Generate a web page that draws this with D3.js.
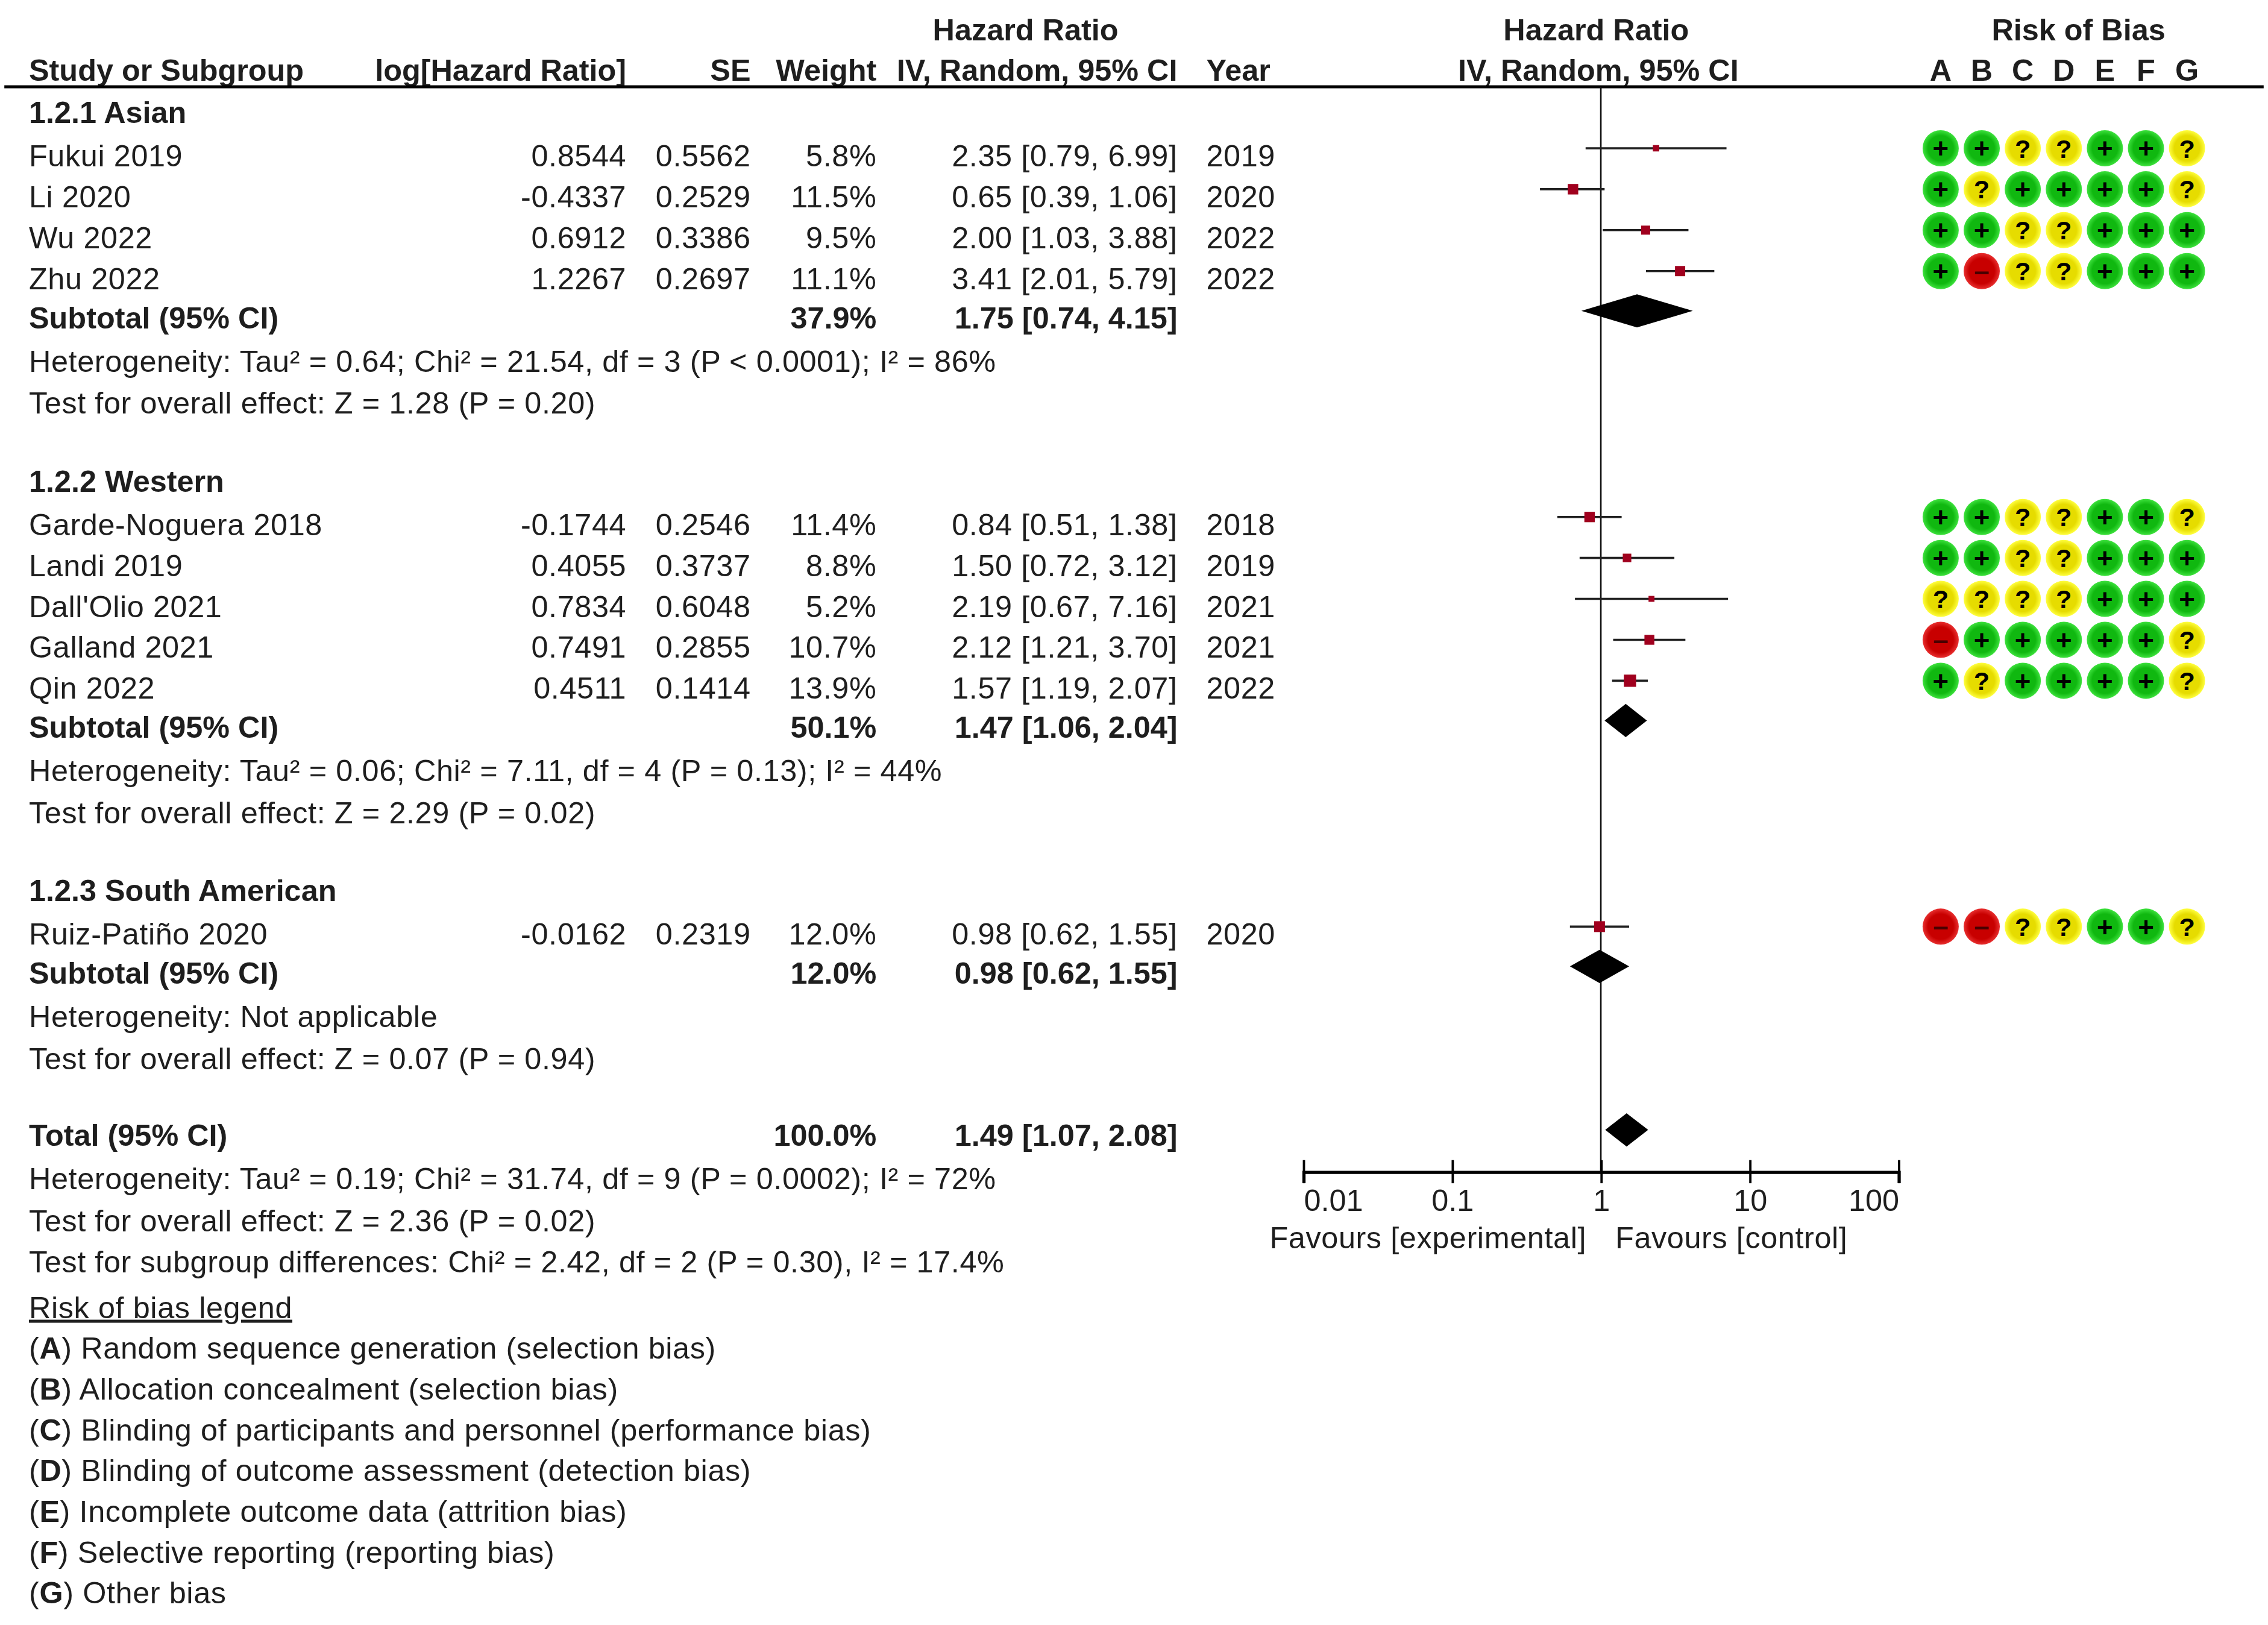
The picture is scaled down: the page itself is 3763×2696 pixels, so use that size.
<!DOCTYPE html>
<html>
<head>
<meta charset="utf-8">
<script src="https://cdn.jsdelivr.net/npm/d3@7"></script>
<style>
  body { margin: 0; background: #fff; }
  text { font-family: "Liberation Sans", Arial, sans-serif; fill: #1e1e1e; }
</style>
</head>
<body>
<script>
// data
var groupNames = ["1.2.1 Asian", "1.2.2 Western", "1.2.3 South American"];
var studyNames = ["Fukui 2019", "Li 2020", "Wu 2022", "Zhu 2022",
  "Garde-Noguera 2018", "Landi 2019", "Dall'Olio 2021", "Galland 2021", "Qin 2022",
  "Ruiz-Patiño 2020"];
var studyGroup = [0, 0, 0, 0, 1, 1, 1, 1, 1, 2];
var logHR = [0.8544, -0.4337, 0.6912, 1.2267, -0.1744, 0.4055, 0.7834, 0.7491, 0.4511, -0.0162];
var seVals = [0.5562, 0.2529, 0.3386, 0.2697, 0.2546, 0.3737, 0.6048, 0.2855, 0.1414, 0.2319];
var weights = [5.8, 11.5, 9.5, 11.1, 11.4, 8.8, 5.2, 10.7, 13.9, 12.0];
var hr = [2.35, 0.65, 2.00, 3.41, 0.84, 1.50, 2.19, 2.12, 1.57, 0.98];
var hrLow = [0.79, 0.39, 1.03, 2.01, 0.51, 0.72, 0.67, 1.21, 1.19, 0.62];
var hrHigh = [6.99, 1.06, 3.88, 5.79, 1.38, 3.12, 7.16, 3.70, 2.07, 1.55];
var years = [2019, 2020, 2022, 2022, 2018, 2019, 2021, 2021, 2022, 2020];
var robCodes = ["++??++?", "+?++++?", "++??+++", "+-??+++",
  "++??++?", "++??+++", "????+++", "-+++++?", "+?++++?", "--??++?"];

var subWeight = [37.9, 50.1, 12.0];
var subHR = [1.75, 1.47, 0.98];
var subLow = [0.74, 1.06, 0.62];
var subHigh = [4.15, 2.04, 1.55];
var subHet = [
  "Heterogeneity: Tau² = 0.64; Chi² = 21.54, df = 3 (P < 0.0001); I² = 86%",
  "Heterogeneity: Tau² = 0.06; Chi² = 7.11, df = 4 (P = 0.13); I² = 44%",
  "Heterogeneity: Not applicable"];
var subEffect = [
  "Test for overall effect: Z = 1.28 (P = 0.20)",
  "Test for overall effect: Z = 2.29 (P = 0.02)",
  "Test for overall effect: Z = 0.07 (P = 0.94)"];

var totalWeight = 100.0, totalHR = 1.49, totalLow = 1.07, totalHigh = 2.08;
var totalTexts = [
  "Heterogeneity: Tau² = 0.19; Chi² = 31.74, df = 9 (P = 0.0002); I² = 72%",
  "Test for overall effect: Z = 2.36 (P = 0.02)",
  "Test for subgroup differences: Chi² = 2.42, df = 2 (P = 0.30), I² = 17.4%"];

var tickValues = [0.01, 0.1, 1, 10, 100];
var tickLabels = ["0.01", "0.1", "1", "10", "100"];
var favourLabels = ["Favours [experimental]", "Favours [control]"];
var robLetters = ["A", "B", "C", "D", "E", "F", "G"];
var robLegend = ["Random sequence generation (selection bias)",
  "Allocation concealment (selection bias)",
  "Blinding of participants and personnel (performance bias)",
  "Blinding of outcome assessment (detection bias)",
  "Incomplete outcome data (attrition bias)",
  "Selective reporting (reporting bias)",
  "Other bias"];

// layout (drawn in a 1568-wide coordinate space, scaled to the page)
var W = 1568, H = 1568 * 2696 / 3763;
var FS = 21, LS = 0.25;
var colLeft = 20, colLog = 433, colSE = 519, colW = 606, colCI = 814, colYear = 834;

var svg = d3.select("body").append("svg")
  .attr("width", 3763).attr("height", 2696)
  .attr("viewBox", "0 0 " + W + " " + H);

var x = d3.scaleLog().domain([0.01, 100]).range([901, 1312.5]);
var sq = d3.scaleLinear().domain([0, 14]).range([1.5, 8.5]);
var robX = d3.scalePoint().domain(robLetters).range([1341.7, 1512]);

var defs = svg.append("defs");
function grad(id, inner, outer) {
  var g = defs.append("radialGradient").attr("id", id);
  g.append("stop").attr("offset", "0%").attr("stop-color", inner);
  g.append("stop").attr("offset", "70%").attr("stop-color", inner);
  g.append("stop").attr("offset", "100%").attr("stop-color", outer);
}
grad("gGreen", "#10b810", "#3ee23e");
grad("gYellow", "#e6dc00", "#ffff40");
grad("gRed", "#c80000", "#e83030");

function txt(s, xx, yy, opt) {
  opt = opt || {};
  return svg.append("text")
    .attr("x", xx).attr("y", yy + 7)
    .attr("font-size", opt.size || FS)
    .attr("font-weight", opt.bold ? "bold" : null)
    .attr("letter-spacing", opt.bold ? null : LS)
    .attr("text-anchor", opt.anchor || "start")
    .text(s);
}

// headers
txt("Hazard Ratio", 709, 21, { bold: true, anchor: "middle" });
txt("Hazard Ratio", 1103.5, 21, { bold: true, anchor: "middle" });
txt("Risk of Bias", 1437, 21, { bold: true, anchor: "middle" });
txt("Study or Subgroup", colLeft, 49, { bold: true });
txt("log[Hazard Ratio]", colLog, 49, { bold: true, anchor: "end" });
txt("SE", colSE, 49, { bold: true, anchor: "end" });
txt("Weight", colW, 49, { bold: true, anchor: "end" });
txt("IV, Random, 95% CI", colCI, 49, { bold: true, anchor: "end" });
txt("Year", colYear, 49, { bold: true });
txt("IV, Random, 95% CI", 1105, 49, { bold: true, anchor: "middle" });
robLetters.forEach(function (l) { txt(l, robX(l), 49, { bold: true, anchor: "middle" }); });

svg.append("line").attr("x1", 3).attr("x2", 1565).attr("y1", 60).attr("y2", 60)
  .attr("stroke", "#000").attr("stroke-width", 2);

var f2 = d3.format(".2f");
function ciText(a, b, c) { return f2(a) + " [" + f2(b) + ", " + f2(c) + "]"; }

var plotG = svg.append("g");
var axisY = 810;

// reference line at HR = 1
plotG.append("line").attr("x1", x(1)).attr("x2", x(1)).attr("y1", 60).attr("y2", axisY)
  .attr("stroke", "#111").attr("stroke-width", 1.1);

function diamond(y, lo, est, hi) {
  var h = 11.5;
  plotG.append("polygon")
    .attr("points", [[x(lo), y], [x(est), y - h], [x(hi), y], [x(est), y + h]].join(" "))
    .attr("fill", "#000");
}

function robRow(code, y) {
  code.split("").forEach(function (c, j) {
    var cx = robX(robLetters[j]);
    var fill = c === "+" ? "url(#gGreen)" : c === "?" ? "url(#gYellow)" : "url(#gRed)";
    svg.append("circle").attr("cx", cx).attr("cy", y).attr("r", 12.5).attr("fill", fill);
    svg.append("text").attr("x", cx).attr("y", y).attr("dy", c === "-" ? "0.33em" : "0.36em")
      .attr("text-anchor", "middle").attr("font-weight", "bold")
      .attr("font-size", c === "?" ? 18 : 19).style("fill", c === "-" ? "#4a0000" : "#000")
      .text(c === "-" ? "–" : c);
  });
}

var y = 78;
groupNames.forEach(function (gname, g) {
  txt(gname, colLeft, y, { bold: true });
  y += 30;
  var idx = d3.range(studyNames.length).filter(function (i) { return studyGroup[i] === g; });
  idx.forEach(function (i, k) {
    if (k > 0) y += 28.3;
    txt(studyNames[i], colLeft, y);
    txt(logHR[i].toFixed(4), colLog, y, { anchor: "end" });
    txt(seVals[i].toFixed(4), colSE, y, { anchor: "end" });
    txt(weights[i].toFixed(1) + "%", colW, y, { anchor: "end" });
    txt(ciText(hr[i], hrLow[i], hrHigh[i]), colCI, y, { anchor: "end" });
    txt(String(years[i]), colYear, y);
    var my = y - 5.5;
    plotG.append("line").attr("x1", x(hrLow[i])).attr("x2", x(hrHigh[i]))
      .attr("y1", my).attr("y2", my).attr("stroke", "#222").attr("stroke-width", 1.5);
    var s = sq(weights[i]);
    plotG.append("rect").attr("x", x(hr[i]) - s / 2).attr("y", my - s / 2)
      .attr("width", s).attr("height", s).attr("fill", "#a0001e");
    robRow(robCodes[i], my);
  });
  y += 27;
  txt("Subtotal (95% CI)", colLeft, y, { bold: true });
  txt(subWeight[g].toFixed(1) + "%", colW, y, { bold: true, anchor: "end" });
  txt(ciText(subHR[g], subLow[g], subHigh[g]), colCI, y, { bold: true, anchor: "end" });
  diamond(y - 5, subLow[g], subHR[g], subHigh[g]);
  y += 30;
  txt(subHet[g], colLeft, y);
  y += 29;
  txt(subEffect[g], colLeft, y);
  y += 54;
});

y -= 1;
txt("Total (95% CI)", colLeft, y, { bold: true });
txt(totalWeight.toFixed(1) + "%", colW, y, { bold: true, anchor: "end" });
txt(ciText(totalHR, totalLow, totalHigh), colCI, y, { bold: true, anchor: "end" });
diamond(y - 4, totalLow, totalHR, totalHigh);
y += 30;
totalTexts.forEach(function (t, i) { txt(t, colLeft, y); y += (i === 0 ? 29 : 28.5); });
y += 3;
txt("Risk of bias legend", colLeft, y).style("text-decoration", "underline");
y += 28.2;
robLegend.forEach(function (t, i) {
  var el = svg.append("text").attr("x", colLeft).attr("y", y + 7)
    .attr("font-size", FS).attr("letter-spacing", LS);
  el.append("tspan").text("(");
  el.append("tspan").attr("font-weight", "bold").text(robLetters[i]);
  el.append("tspan").text(") " + t);
  y += 28.2;
});

// axis
var axis = d3.axisBottom(x).tickValues(tickValues).tickSize(8)
  .tickFormat(function (d, i) { return tickLabels[i]; });
var ag = svg.append("g").attr("transform", "translate(0," + axisY + ")").call(axis);
ag.select(".domain").attr("stroke", "#000").attr("stroke-width", 2.2);
ag.selectAll(".tick line").attr("y1", -8).attr("y2", 8).attr("stroke", "#000").attr("stroke-width", 1.6);
ag.selectAll(".tick text")
  .attr("font-family", "Liberation Sans, Arial, sans-serif")
  .attr("font-size", FS).attr("y", 27).attr("dy", 0).style("fill", "#1e1e1e")
  .attr("text-anchor", function (d, i) { return i === 0 ? "start" : i === tickValues.length - 1 ? "end" : "middle"; });

txt(favourLabels[0], x(1) - 10, 856, { anchor: "end" });
txt(favourLabels[1], x(1) + 10, 856);
</script>
</body>
</html>
